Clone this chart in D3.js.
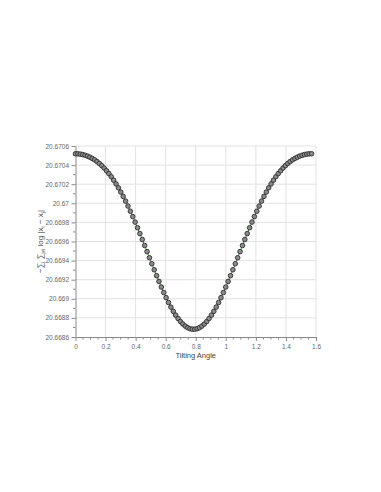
<!DOCTYPE html>
<html>
<head>
<meta charset="utf-8">
<script src="https://cdn.jsdelivr.net/npm/d3@7"></script>
<style>
  body { margin: 0; background: #fff; }
  svg text { font-family: "Liberation Sans", Arial, sans-serif; }
</style>
</head>
<body>
<svg id="chart"></svg>
<script>
// tilting angle (rad), 0 .. pi/2
const angles = [
  0, 0.0159, 0.0317, 0.0476, 0.0635, 0.0793, 0.0952, 0.1111, 0.1269, 0.1428,
  0.1587, 0.1745, 0.1904, 0.2063, 0.2221, 0.2380, 0.2539, 0.2697, 0.2856, 0.3015,
  0.3173, 0.3332, 0.3491, 0.3649, 0.3808, 0.3967, 0.4125, 0.4284, 0.4443, 0.4601,
  0.4760, 0.4919, 0.5077, 0.5236, 0.5395, 0.5553, 0.5712, 0.5871, 0.6029, 0.6188,
  0.6347, 0.6505, 0.6664, 0.6823, 0.6981, 0.7140, 0.7299, 0.7457, 0.7616, 0.7775,
  0.7933, 0.8092, 0.8251, 0.8409, 0.8568, 0.8727, 0.8885, 0.9044, 0.9203, 0.9361,
  0.9520, 0.9679, 0.9837, 0.9996, 1.0155, 1.0313, 1.0472, 1.0631, 1.0789, 1.0948,
  1.1107, 1.1265, 1.1424, 1.1583, 1.1741, 1.1900, 1.2059, 1.2217, 1.2376, 1.2535,
  1.2693, 1.2852, 1.3011, 1.3169, 1.3328, 1.3487, 1.3645, 1.3804, 1.3963, 1.4121,
  1.4280, 1.4439, 1.4597, 1.4756, 1.4915, 1.5073, 1.5232, 1.5391, 1.5549, 1.5708
];

// -sum log|xi - xj|
const energy = [
  20.670519, 20.670518, 20.670515, 20.670510, 20.670503, 20.670494, 20.670483, 20.670470, 20.670455, 20.670437,
  20.670417, 20.670394, 20.670369, 20.670341, 20.670311, 20.670278, 20.670242, 20.670203, 20.670162, 20.670118,
  20.670072, 20.670023, 20.669971, 20.669917, 20.669861, 20.669803, 20.669744, 20.669683, 20.669621, 20.669558,
  20.669494, 20.669430, 20.669367, 20.669304, 20.669242, 20.669182, 20.669123, 20.669066, 20.669012, 20.668961,
  20.668913, 20.668869, 20.668829, 20.668793, 20.668762, 20.668736, 20.668714, 20.668698, 20.668687, 20.668682,
  20.668682, 20.668687, 20.668698, 20.668714, 20.668736, 20.668762, 20.668793, 20.668829, 20.668869, 20.668913,
  20.668961, 20.669012, 20.669066, 20.669123, 20.669182, 20.669242, 20.669304, 20.669367, 20.669430, 20.669494,
  20.669558, 20.669621, 20.669683, 20.669744, 20.669803, 20.669861, 20.669917, 20.669971, 20.670023, 20.670072,
  20.670118, 20.670162, 20.670203, 20.670242, 20.670278, 20.670311, 20.670341, 20.670369, 20.670394, 20.670417,
  20.670437, 20.670455, 20.670470, 20.670483, 20.670494, 20.670503, 20.670510, 20.670515, 20.670518, 20.670519
];

const xTicks = [0, 0.2, 0.4, 0.6, 0.8, 1, 1.2, 1.4, 1.6];
const yTicks = [20.6686, 20.6688, 20.669, 20.6692, 20.6694, 20.6696, 20.6698, 20.67, 20.6702, 20.6704, 20.6706];

const width = 381, height = 492;
const margin = { top: 146, right: 65, bottom: 155, left: 75.5 };

const svg = d3.select("#chart").attr("width", width).attr("height", height);

const x = d3.scaleLinear().domain([0, 1.6]).range([margin.left, width - margin.right]);
const y = d3.scaleLinear().domain([20.6686, 20.6706]).range([height - margin.bottom, margin.top]);

const data = angles.map((a, i) => ({ a, e: energy[i] }));

// grid
const grid = svg.append("g").attr("stroke", "#e2e2e2").attr("stroke-width", 1);
grid.selectAll(".gx").data(xTicks.slice(1)).enter().append("line")
  .attr("x1", d => x(d)).attr("x2", d => x(d))
  .attr("y1", y.range()[1]).attr("y2", y.range()[0]);
grid.selectAll(".gy").data(yTicks.slice(1)).enter().append("line")
  .attr("x1", x.range()[0]).attr("x2", x.range()[1])
  .attr("y1", d => y(d)).attr("y2", d => y(d));

// minor ticks
const xMinor = d3.range(0, 1.6001, 0.05).filter(v => Math.abs(v / 0.2 - Math.round(v / 0.2)) > 1e-6);
const yMinor = yTicks.slice(1).map(v => v - 0.0001);

const xAxis = svg.append("g")
  .attr("transform", `translate(0,${y.range()[0]})`)
  .call(d3.axisBottom(x).tickValues(xTicks).tickFormat(d3.format("")).tickSize(4).tickSizeOuter(0));
xAxis.append("g").selectAll("line").data(xMinor).enter().append("line")
  .attr("x1", d => x(d)).attr("x2", d => x(d)).attr("y1", 0).attr("y2", 2.5)
  .attr("stroke", "#888");

const yAxis = svg.append("g")
  .attr("transform", `translate(${x.range()[0]},0)`)
  .call(d3.axisLeft(y).tickValues(yTicks).tickFormat(d => d3.format(".4f")(d).replace(/0+$/, "")).tickSize(4).tickSizeOuter(0));
yAxis.append("g").selectAll("line").data(yMinor).enter().append("line")
  .attr("x1", 0).attr("x2", -2.5).attr("y1", d => y(d)).attr("y2", d => y(d))
  .attr("stroke", "#888");

[xAxis, yAxis].forEach(g => {
  g.select(".domain").attr("stroke", "#888");
  g.selectAll(".tick line").attr("stroke", "#888");
  g.selectAll(".tick text").attr("fill", "#666").style("font-size", "6.5px")
    .style("font-family", "'Liberation Sans', Arial, sans-serif");
});
xAxis.selectAll(".tick text").attr("dy", "0.9em").attr("y", 6);
yAxis.selectAll(".tick text").attr("x", -6.5);

// line + markers
const line = d3.line().x(d => x(d.a)).y(d => y(d.e));
svg.append("path").datum(data)
  .attr("fill", "none").attr("stroke", "#2ca02c").attr("stroke-width", 1)
  .attr("d", line);

svg.append("g").selectAll("circle").data(data).enter().append("circle")
  .attr("cx", d => x(d.a)).attr("cy", d => y(d.e)).attr("r", 2.3)
  .attr("fill", "#8a8a8a").attr("stroke", "#2e2e2e").attr("stroke-width", 0.9);

// axis labels
svg.append("text")
  .attr("x", (x.range()[0] + x.range()[1]) / 2).attr("y", 358)
  .attr("text-anchor", "middle").attr("fill", "#444").style("font-size", "7.5px")
  .text("Tilting Angle");

const yl = svg.append("text")
  .attr("transform", `translate(43,${(y.range()[0] + y.range()[1]) / 2}) rotate(-90)`)
  .attr("text-anchor", "middle").attr("fill", "#555").style("font-size", "8px");
yl.append("tspan").text("\u2212\u2211");
yl.append("tspan").attr("dy", 2).style("font-size", "5px").text("i");
yl.append("tspan").attr("dy", -2).text(" \u2211");
yl.append("tspan").attr("dy", 2).style("font-size", "5px").text("j\u2260i");
yl.append("tspan").attr("dy", -2).text(" log |x");
yl.append("tspan").attr("dy", 2).style("font-size", "5px").text("i");
yl.append("tspan").attr("dy", -2).text(" \u2212 x");
yl.append("tspan").attr("dy", 2).style("font-size", "5px").text("j");
yl.append("tspan").attr("dy", -2).text("|");
</script>
</body>
</html>
